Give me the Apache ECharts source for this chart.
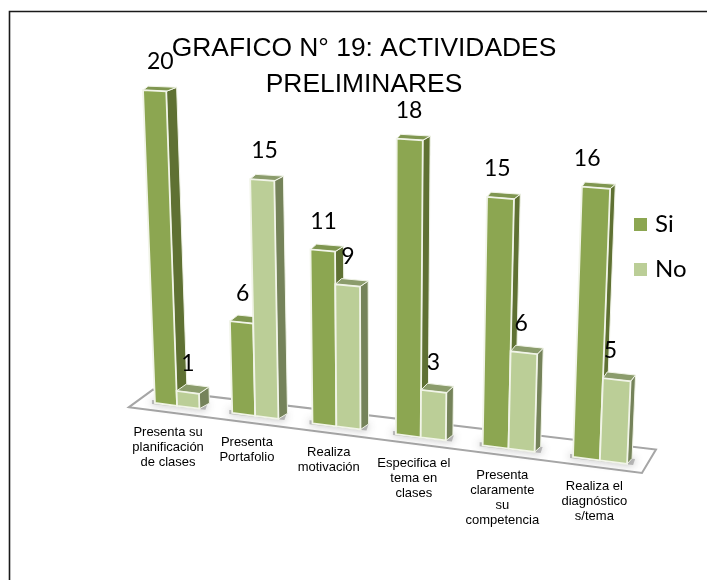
<!DOCTYPE html>
<html>
<head>
<meta charset="utf-8">
<style>html,body{margin:0;padding:0;background:#fff}#chart{width:707px;height:580px}</style>
<script src="https://cdn.jsdelivr.net/npm/echarts@6/dist/echarts.min.js"></script>
</head>
<body>
<div id="chart"></div>
<script>
// ---------- data ----------
const categories = [
  'Presenta su\nplanificación\nde clases',
  'Presenta\nPortafolio',
  'Realiza\nmotivación',
  'Especifica el\ntema en\nclases',
  'Presenta\nclaramente\nsu\ncompetencia',
  'Realiza el\ndiagnóstico\ns/tema'
];
const siValues = [20, 6, 11, 18, 15, 16];
const noValues = [1, 15, 9, 3, 6, 5];
const titleText = 'GRAFICO N° 19: ACTIVIDADES\nPRELIMINARES';

// ---------- perspective projection applied to the flat cartesian coordinates ----------
const GRID = { left: 139.1, top: 109, width: 436.08, height: 294 };
const PERSP = 0.0185;          // horizontal convergence
const HEIGHT_PERSP = 0.000204; // taller bars come nearer to the viewer
const FLOOR_SLOPE = 0.129;     // slope of the baseline
const VANISH = [380, 6300];    // vertical lines converge here
const BAR_FRACTION = 0.29;     // bar width as a part of the category band

function project(flatX, rise) {
  const t = (flatX - GRID.left) / (GRID.width / categories.length);
  const k = 1 / (1 - PERSP * t);
  const X = flatX * k;
  const baseY = GRID.top + GRID.height + FLOOR_SLOPE * (X - 155);
  const H = rise * (1 + PERSP * t) * (1 + HEIGHT_PERSP * rise);
  return [X + (X - VANISH[0]) * H / (VANISH[1] - baseY), baseY - H];
}
function depthX(X) { return 0.0117 * (1054 - X); }

function barRenderer(side, front, sideCol, topCol) {
  return function (params, api) {
    const i = api.value(0), v = api.value(1);
    const c0 = api.coord([i, 0]), cv = api.coord([i, v]);
    const band = api.size([1, 0])[0];
    const rise = c0[1] - cv[1];
    const x0 = side < 0 ? c0[0] - BAR_FRACTION * band : c0[0];
    const x1 = side < 0 ? c0[0] : c0[0] + BAR_FRACTION * band;
    const bl = project(x0, 0), br = project(x1, 0), tl = project(x0, rise), tr = project(x1, rise);
    const d = depthX(tr[0]), f = rise / GRID.height;
    const dy = -(7 - 3 * f);
    const btr = [tr[0] + d, tr[1] + dy], btl = [tl[0] + d * (1 - 0.5 * f), tl[1] + dy];
    const bbr = [br[0] + depthX(br[0]), br[1] - 5.5];
    const edge = '#f1f4e8';
    const poly = (pts, fill, sw) => ({
      type: 'polygon', shape: { points: pts },
      style: { fill: fill, stroke: edge, lineWidth: sw }
    });
    const midX = (tl[0] + tr[0]) / 2, midY = (tl[1] + tr[1]) / 2;
    const lean = ((bl[0] + br[0]) / 2) - midX;
    return {
      type: 'group',
      children: [
        poly([br, bbr, btr, tr], sideCol, 1),
        poly([tl, btl, btr, tr], topCol, 1),
        poly([bl, br, tr, tl], front, 1.8),
        {
          type: 'text', z2: 50,
          style: {
            text: String(v),
            x: midX + 0.5 * lean - 0.035 * Math.max(0, midX - 480),
            y: midY - 29,
            align: 'center', verticalAlign: 'middle',
            font: '23px Lato, sans-serif', fill: '#000'
          }
        }
      ]
    };
  };
}

function floorRenderer(params, api) {
  const bandLeft = api.coord([0, 0])[0] - api.size([1, 0])[0] / 2;
  const band = api.size([1, 0])[0];
  const a = project(bandLeft - 0.135 * band, 0), b = project(bandLeft + 5.947 * band, 0);
  const p1 = [a[0], a[1] + 7.5], p2 = [b[0], b[1] + 7.2];
  const p3 = [p2[0] + 14, p2[1] - 23.5], p4 = [p1[0] + 24, p1[1] - 17.5];
  return {
    type: 'polygon', shape: { points: [p1, p2, p3, p4] },
    style: { fill: '#fff', stroke: '#a6a6a6', lineWidth: 2 }
  };
}

function shadowRenderer(params, api) {
  const i = api.value(0);
  const c = api.coord([i, 0]);
  const band = api.size([1, 0])[0];
  const l = project(c[0] - BAR_FRACTION * band, 0), r = project(c[0] + BAR_FRACTION * band, 0);
  return {
    type: 'polygon',
    shape: { points: [[l[0] - 3, l[1] - 3], [r[0] + 8, r[1] - 5], [r[0] + 6, r[1] + 1], [l[0] - 3, l[1] + 1]] },
    style: { fill: 'rgba(130,130,130,0.5)', shadowBlur: 9, shadowColor: 'rgba(80,80,80,0.9)' }
  };
}

function labelRenderer(params, api) {
  const i = api.value(0);
  const c = api.coord([i, 0]);
  const p = project(c[0], 0);
  return {
    type: 'text',
    style: {
      text: categories[i], x: p[0] - 9 + 0.7 * i, y: p[1] + 19,
      align: 'center', verticalAlign: 'top',
      font: '13px "Liberation Sans", Arial, sans-serif', lineHeight: 15, fill: '#000'
    }
  };
}

const idx = categories.map((_, i) => i);
const option = {
  animation: false,
  backgroundColor: '#fff',
  title: {
    text: titleText, left: 359, top: 26, textAlign: 'center',
    textStyle: { fontFamily: '"Liberation Sans", Arial, sans-serif', fontSize: 26.4, fontWeight: 'normal', color: '#000', lineHeight: 36 }
  },
  legend: {
    orient: 'vertical', left: 629, top: 206, itemWidth: 13, itemHeight: 13, itemGap: 18, icon: 'rect',
    data: ['Si', 'No'],
    selectedMode: false,
    textStyle: { fontFamily: 'Lato, sans-serif', fontSize: 24, color: '#000', lineHeight: 27, padding: [0, 0, 0, 3] }
  },
  grid: { left: GRID.left, top: GRID.top, width: GRID.width, height: GRID.height, containLabel: false },
  xAxis: { type: 'category', data: categories, show: false },
  yAxis: { type: 'value', min: 0, max: 20, show: false },
  graphic: [{
    type: 'polyline', silent: true,
    shape: { points: [[9.5, 580], [9.5, 11.5], [707, 11.5]] },
    style: { fill: 'none', stroke: '#1a1a1a', lineWidth: 1.6 }
  }],
  series: [
    { type: 'custom', name: 'floor', clip: false, silent: true, z: 1, renderItem: floorRenderer, data: [[0, 0]], encode: { x: 0, y: 1 } },
    { type: 'custom', name: 'sombra', clip: false, silent: true, z: 1, renderItem: shadowRenderer, data: idx.map(i => [i, 0]), encode: { x: 0, y: 1 } },
    { type: 'custom', name: 'Si', clip: false, z: 2, itemStyle: { color: '#8CA651' },
      renderItem: barRenderer(-1, '#8CA651', '#5F7133', '#7F9650'),
      data: siValues.map((v, i) => [i, v]), encode: { x: 0, y: 1 } },
    { type: 'custom', name: 'No', clip: false, z: 3, itemStyle: { color: '#BBCE97' },
      renderItem: barRenderer(1, '#BBCE97', '#75835A', '#8B9C6C'),
      data: noValues.map((v, i) => [i, v]), encode: { x: 0, y: 1 } },
    { type: 'custom', name: 'etiquetas', clip: false, silent: true, z: 4, renderItem: labelRenderer, data: idx.map(i => [i, 0]), encode: { x: 0, y: 1 } }
  ]
};
echarts.init(document.getElementById('chart'), null, { renderer: 'canvas' }).setOption(option);
</script>
</body>
</html>
